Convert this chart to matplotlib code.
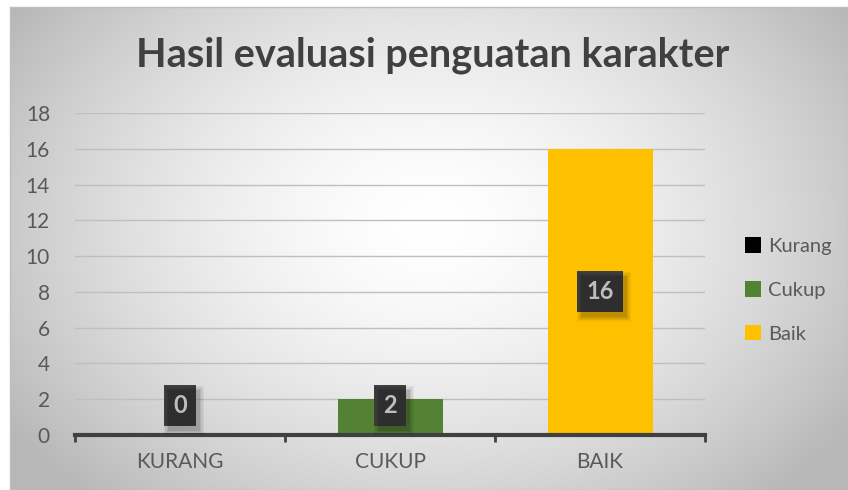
import numpy as np
import matplotlib
matplotlib.use("Agg")
import matplotlib.pyplot as plt
from matplotlib.patches import Rectangle

categories = ["KURANG", "CUKUP", "BAIK"]
series_names = ["Kurang", "Cukup", "Baik"]
values = [0, 2, 16]
colors = ["#000000", "#548235", "#FFC000"]
yticks = [0, 2, 4, 6, 8, 10, 12, 14, 16, 18]
title = "Hasil evaluasi penguatan karakter"

W, H = 848, 490
fig = plt.figure(figsize=(W / 100, H / 100), dpi=100)
fig.patch.set_facecolor("white")

# radial gradient background
bg = fig.add_axes([10 / W, 0, 1 - 10 / W, 1 - 7 / H])
yy, xx = np.mgrid[0:200, 0:340]
cx, cy = 170, 110
r = np.sqrt(((xx - cx) / 200.0) ** 2 + ((yy - cy) / 150.0) ** 2)
val = 1.0 - 0.27 * np.clip(r, 0, 1.2) ** 1.6
val = np.clip(val, 0.72, 1.0)
bg.imshow(np.dstack([val, val, val]), aspect="auto", extent=[0, 1, 0, 1], origin="lower")
bg.set_xlim(0, 1); bg.set_ylim(0, 1)
bg.set_xticks([]); bg.set_yticks([])
for s in bg.spines.values():
    s.set_color("#bfbfbf"); s.set_linewidth(1.0)

plt.rcParams["font.family"] = ["Lato", "DejaVu Sans"]

ax = fig.add_axes([75 / W, 1 - 435 / H, 630 / W, (435 - 113) / H])
ax.patch.set_alpha(0)
x = np.arange(len(categories))
for i in range(len(categories)):
    ax.bar(x[i], values[i], width=0.5, color=colors[i], zorder=3, label=series_names[i])

ax.set_xlim(-0.5, len(categories) - 0.5)
ax.set_ylim(0, 18)
ax.set_yticks(yticks)
ax.set_yticklabels([str(t) for t in yticks], fontsize=15, color="#595959")
ax.yaxis.grid(True, color="#bfbfbf", linewidth=1.0, zorder=0)
ax.tick_params(axis="y", length=0, pad=18)
ax.set_xticks(x)
ax.set_xticklabels(categories, fontsize=15, color="#595959")
ax.tick_params(axis="x", length=0, pad=12)
ax.set_xticks(np.arange(len(categories) + 1) - 0.5, minor=True)
ax.tick_params(axis="x", which="minor", length=5, width=2, color="#404040", direction="out")
for s in ["top", "right", "left"]:
    ax.spines[s].set_visible(False)
ax.spines["bottom"].set_color("#404040")
ax.spines["bottom"].set_linewidth(3)
ax.spines["bottom"].set_zorder(4)

# data labels
label_texts = []
for i, v in enumerate(values):
    ypos = max(v / 2.0, 1.65)
    t = ax.text(x[i], ypos, str(v), ha="center", va="center", fontsize=17,
                fontweight="bold", color="white",
                bbox=dict(boxstyle="square,pad=0.38", fc="#404040", ec="none"), zorder=6)
    label_texts.append(t)

fig.text(433 / W, 1 - 55 / H, title, ha="center", va="center", fontsize=28.5,
         fontweight="bold", color="#404040")

leg = fig.legend(handles=ax.containers, labels=series_names, loc="center left",
                 bbox_to_anchor=(745 / W, 1 - 290 / H), frameon=False, fontsize=14.5,
                 handlelength=0.8, handleheight=0.8, handletextpad=0.35, labelspacing=1.3,
                 labelcolor="#595959", borderaxespad=0, borderpad=0)

# soft shadows behind the label boxes
fig.canvas.draw()
for t in label_texts:
    ext = t.get_bbox_patch().get_window_extent()
    for k, a in enumerate([0.10, 0.08, 0.06, 0.04]):
        grow = k * 1.5
        fig.patches.append(Rectangle((ext.x0 + 4 - grow, ext.y0 - 5 - grow),
                                     ext.width + 2 * grow, ext.height + 2 * grow,
                                     transform=None, fc="black", ec="none", alpha=a,
                                     zorder=5))

fig.savefig("out.png", dpi=100)
